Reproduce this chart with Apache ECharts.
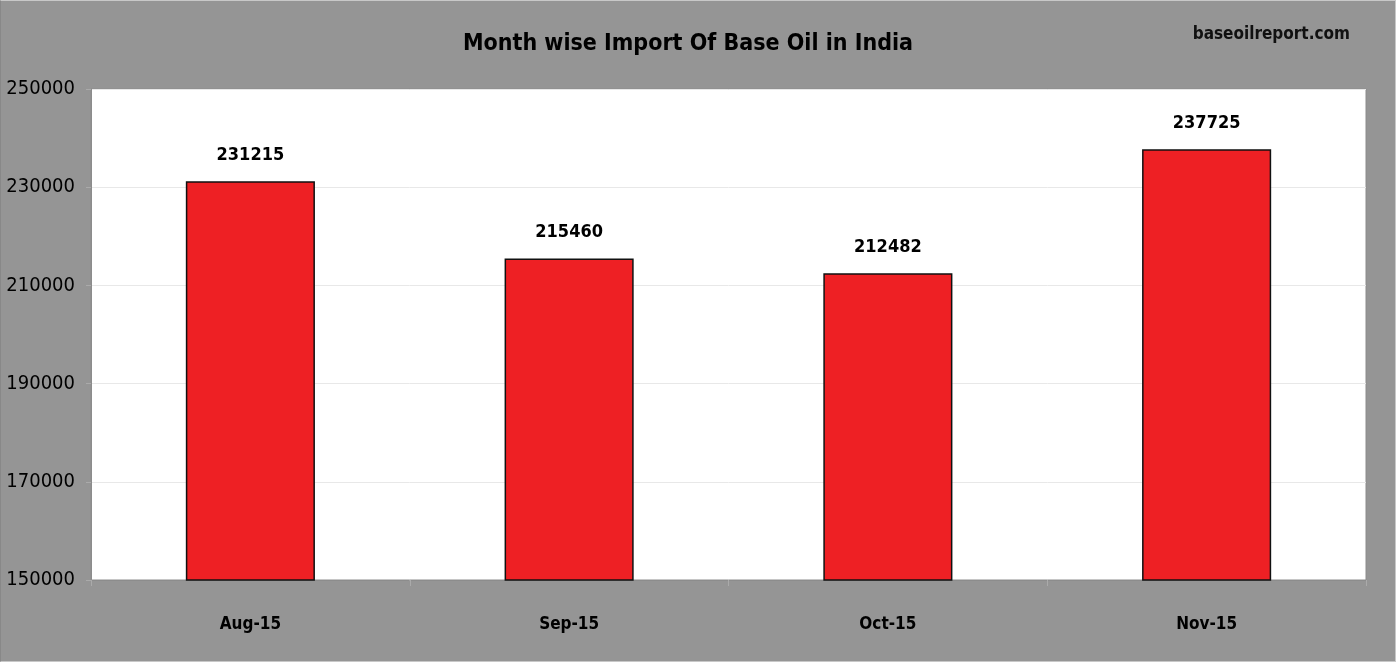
<!DOCTYPE html>
<html><head><meta charset="utf-8">
<script src="https://cdn.jsdelivr.net/npm/echarts@6/dist/echarts.min.js"></script>
<style>html,body{margin:0;padding:0;background:#959595;}#c{width:1396px;height:662px;box-sizing:border-box;border:1px solid #c8c8c8;border-left-color:#888;}</style>
</head><body><div id="c"></div>
<script>
var categories = ['Aug-15','Sep-15','Oct-15','Nov-15'];
var values = [231215, 215460, 212482, 237725];
var yTicks = [150000, 170000, 190000, 210000, 230000, 250000];
var FONT = '"Liberation Sans Narrow","DejaVu Sans Condensed","Liberation Sans",sans-serif';
var chart = echarts.init(document.getElementById('c'));
chart.setOption({
  backgroundColor: '#959595',
  animation: false,
  title: [{
    text: 'Month wise Import Of Base Oil in India',
    left: 682, top: 27, textAlign: 'center',
    textStyle: {fontFamily: FONT, fontSize: 23, fontWeight: 'bold', color: '#000'}
  }, {
    text: 'baseoilreport.com',
    right: 40, top: 20,
    textStyle: {fontFamily: FONT, fontSize: 17, fontWeight: 'bold', color: '#111'}
  }],
  grid: {left: 90, right: 29, top: 88, bottom: 81, outerBoundsMode: 'none', containLabel: false,
         show: true, backgroundColor: '#fff', borderColor: '#8c8c8c', borderWidth: 1},
  xAxis: {
    type: 'category', data: categories,
    axisLine: {lineStyle: {color: '#8c8c8c'}},
    axisTick: {show: true, length: 6, lineStyle: {color: '#aaa'}},
    axisLabel: {fontFamily: FONT, fontSize: 17, fontWeight: 'bold', color: '#000', margin: 36}
  },
  yAxis: {
    type: 'value', min: yTicks[0], max: yTicks[yTicks.length-1], interval: 20000,
    axisLine: {show: true, lineStyle: {color: '#8c8c8c'}},
    axisTick: {show: true, length: 5, lineStyle: {color: '#aaa'}},
    splitLine: {lineStyle: {color: '#e8e8e8'}},
    axisLabel: {fontFamily: FONT, fontSize: 20, color: '#000', margin: 16, formatter: function (v) { return String(v); }}
  },
  series: [{
    type: 'bar', data: values, barWidth: '40.5%',
    itemStyle: {color: '#ee2024', borderColor: '#111', borderWidth: 1.5},
    label: {show: true, position: 'top', distance: 17, fontFamily: FONT, fontSize: 18, fontWeight: 'bold', color: '#000'}
  }]
});
</script></body></html>
